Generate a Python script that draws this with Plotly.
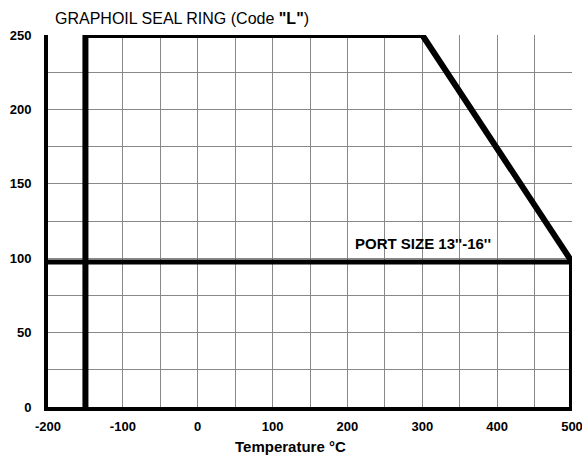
import plotly.graph_objects as go

# Data
envelope_temp = [-150, -150, 300, 500, 500]
envelope_pressure = [0, 250, 250, 97.5, 0]
port_line_temp = [-200, 500]
port_line_pressure = [97.5, 97.5]
x_tick_vals = [-200, -100, 0, 100, 200, 300, 400, 500]
x_tick_text = ["-200", "-100", "0", "100", "200", "300", "400", "500"]
y_tick_vals = [0, 50, 100, 150, 200, 250]
y_tick_text = ["0", "50", "100", "150", "200", "250"]
label_temp = 207

FONT = "Liberation Sans, Arial, sans-serif"
W, H = 582, 459
L, R, T, B = 48, 10, 35, 52

fig = go.Figure()
fig.add_trace(go.Scatter(x=port_line_temp, y=port_line_pressure, mode="lines",
                         line=dict(color="black", width=5), hoverinfo="skip", cliponaxis=False))
fig.add_trace(go.Scatter(x=envelope_temp, y=envelope_pressure, mode="lines",
                         line=dict(color="black", width=6), hoverinfo="skip", cliponaxis=False))

fig.add_annotation(x=label_temp, y=port_line_pressure[0], xref="x", yref="y",
                   text="<b>PORT SIZE 13''-16''</b>",
                   showarrow=False, xanchor="left", yanchor="middle", yshift=18,
                   font=dict(family=FONT, size=15, color="black"))

# x-axis title (sits slightly left of the plot centre in the reference)
fig.add_annotation(x=(290 - L) / (W - L - R), y=0, xref="paper", yref="paper",
                   text="<b>Temperature °C</b>", showarrow=False,
                   xanchor="center", yanchor="middle", yshift=-39,
                   font=dict(family=FONT, size=15, color="black"))

fig.update_layout(
    width=W, height=H,
    margin=dict(l=L, r=R, t=T, b=B),
    paper_bgcolor="white", plot_bgcolor="white",
    showlegend=False,
    title=dict(text="GRAPHOIL SEAL RING (Code <b>\"L\"</b>)", x=55 / W, xanchor="left",
               y=1 - 18.5 / H, yanchor="middle",
               font=dict(family=FONT, size=16, color="black")),
    xaxis=dict(range=[-200, 500], tickvals=x_tick_vals, ticktext=x_tick_text,
               showgrid=True, gridcolor="#888888", automargin=False,
               gridwidth=1, zeroline=False, showline=True, linecolor="black", linewidth=4,
               ticks="", ticklabelstandoff=4, ticklabeloverflow="allow",
               tickfont=dict(family=FONT, size=13, color="black", weight="bold"),
               minor=dict(dtick=50, tick0=0, showgrid=True, gridcolor="#888888", gridwidth=1)),
    yaxis=dict(range=[0, 250], tickvals=y_tick_vals, ticktext=y_tick_text,
               showgrid=True, gridcolor="#888888", automargin=False,
               gridwidth=1, zeroline=False, showline=True, linecolor="black", linewidth=4,
               ticks="", ticklabelstandoff=10, ticklabeloverflow="allow",
               tickfont=dict(family=FONT, size=13, color="black", weight="bold"),
               minor=dict(dtick=25, tick0=0, showgrid=True, gridcolor="#888888", gridwidth=1)),
)

fig.write_html("out.html", config={"displayModeBar": False},
               post_script="document.body.style.margin='0';")
